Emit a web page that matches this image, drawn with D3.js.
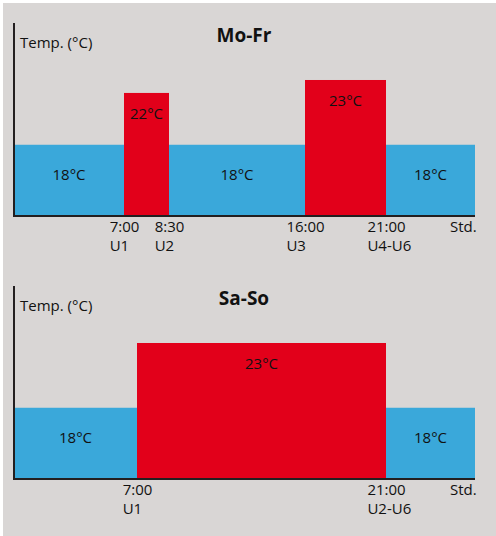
<!DOCTYPE html>
<html>
<head>
<meta charset="utf-8">
<script src="https://cdn.jsdelivr.net/npm/d3@7"></script>
<style>
  body { margin: 0; background: #fff; }
  text { font-family: "Open Sans", sans-serif; fill: #111; }
</style>
</head>
<body>
<div id="vis"></div>
<script>
// heating schedule, weekdays
var moFrStart = [0, 7, 8.5, 16, 21];
var moFrEnd = [7, 8.5, 16, 21, 24];
var moFrTemp = [18, 22, 18, 23, 18];
var moFrTicks = [7, 8.5, 16, 21];
var moFrTimes = ["7:00", "8:30", "16:00", "21:00"];
var moFrProgs = ["U1", "U2", "U3", "U4-U6"];

// weekend
var saSoStart = [0, 7, 21];
var saSoEnd = [7, 21, 24];
var saSoTemp = [18, 23, 18];
var saSoTicks = [7, 21];
var saSoTimes = ["7:00", "21:00"];
var saSoProgs = ["U1", "U2-U6"];

var width = 496, height = 536;
var baseTemp = 18;

var svg = d3.select("#vis").append("svg")
	.attr("width", width)
	.attr("height", height);

svg.append("rect")
	.attr("x", 3)
	.attr("y", 3)
	.attr("width", width - 3)
	.attr("height", height - 3)
	.attr("fill", "#d9d6d5");

function drawPlan(top, title, starts, ends, temps, ticks, times, progs, knots, knotPx) {
	var left = 14, plotW = 461, plotH = 193;
	var g = svg.append("g")
		.attr("transform", "translate(" + left + "," + top + ")");

	// schematic time axis, not to scale
	var x = d3.scaleLinear()
		.domain(knots)
		.range(knotPx);
	var y = d3.scaleLinear()
		.domain([12.5, 27.4])
		.range([plotH, 0]);

	var segs = starts.map(function(s, i) {
		return {s: s, e: ends[i], t: temps[i]};
	});

	g.selectAll(".seg")
		.data(segs)
		.enter().append("rect")
			.attr("class", "seg")
			.attr("x", function(d) { return x(d.s); })
			.attr("width", function(d) { return x(d.e) - x(d.s); })
			.attr("y", function(d) { return y(d.t); })
			.attr("height", function(d) { return plotH - y(d.t); })
			.attr("fill", function(d) { return d.t > baseTemp ? "#e2001a" : "#3aa8da"; });

	g.selectAll(".lbl")
		.data(segs)
		.enter().append("text")
			.attr("class", "lbl")
			.attr("x", function(d) { return (x(d.s) + x(d.e)) / 2; })
			.attr("y", function(d) {
				if (d.t > baseTemp) return y(d.t) + 26;
				return (y(d.t) + plotH) / 2;
			})
			.attr("text-anchor", "middle")
			.style("font-size", "15px")
			.text(function(d) { return d.t + "°C"; });

	//x axis
	var xAxis = g.append("g")
		.attr("transform", "translate(0," + plotH + ")")
		.call(d3.axisBottom(x)
			.tickValues(ticks)
			.tickSize(0)
			.tickPadding(5)
			.tickFormat(function(d, i) { return times[i]; }));
	xAxis.select(".domain")
		.attr("d", "M0,0H" + plotW)
		.attr("stroke", "#231f20")
		.attr("stroke-width", 2);
	xAxis.selectAll(".tick text")
		.attr("fill", "#111")
		.style("font-size", "15px")
		.style("font-family", "'Open Sans', sans-serif");
	// program number under each time, left aligned with it
	xAxis.selectAll(".tick").each(function(d, i) {
		var t = d3.select(this).select("text");
		var bb = t.node().getBBox();
		d3.select(this).append("text")
			.attr("x", bb.x)
			.attr("y", 5 + 19)
			.attr("dy", "0.71em")
			.attr("text-anchor", "start")
			.attr("fill", "#111")
			.style("font-size", "15px")
			.text(progs[i]);
	});
	g.append("text")
		.attr("x", 436)
		.attr("y", plotH + 16)
		.style("font-size", "15px")
		.text("Std.");

	//y axis
	g.append("line")
		.attr("x1", 0)
		.attr("x2", 0)
		.attr("y1", 0)
		.attr("y2", plotH + 1)
		.attr("stroke", "#231f20")
		.attr("stroke-width", 2);
	g.append("text")
		.attr("x", 6)
		.attr("y", 25)
		.style("font-size", "15px")
		.text("Temp. (°C)");

	g.append("text")
		.attr("x", 230)
		.attr("y", 19)
		.attr("text-anchor", "middle")
		.style("font-size", "19px")
		.style("font-weight", "bold")
		.text(title);
}

drawPlan(23, "Mo-Fr", moFrStart, moFrEnd, moFrTemp, moFrTicks, moFrTimes, moFrProgs,
	[0, 7, 8.5, 16, 21, 24], [0, 110, 155, 291, 372, 461]);
drawPlan(286, "Sa-So", saSoStart, saSoEnd, saSoTemp, saSoTicks, saSoTimes, saSoProgs,
	[0, 7, 21, 24], [0, 123, 372, 461]);
</script>
</body>
</html>
